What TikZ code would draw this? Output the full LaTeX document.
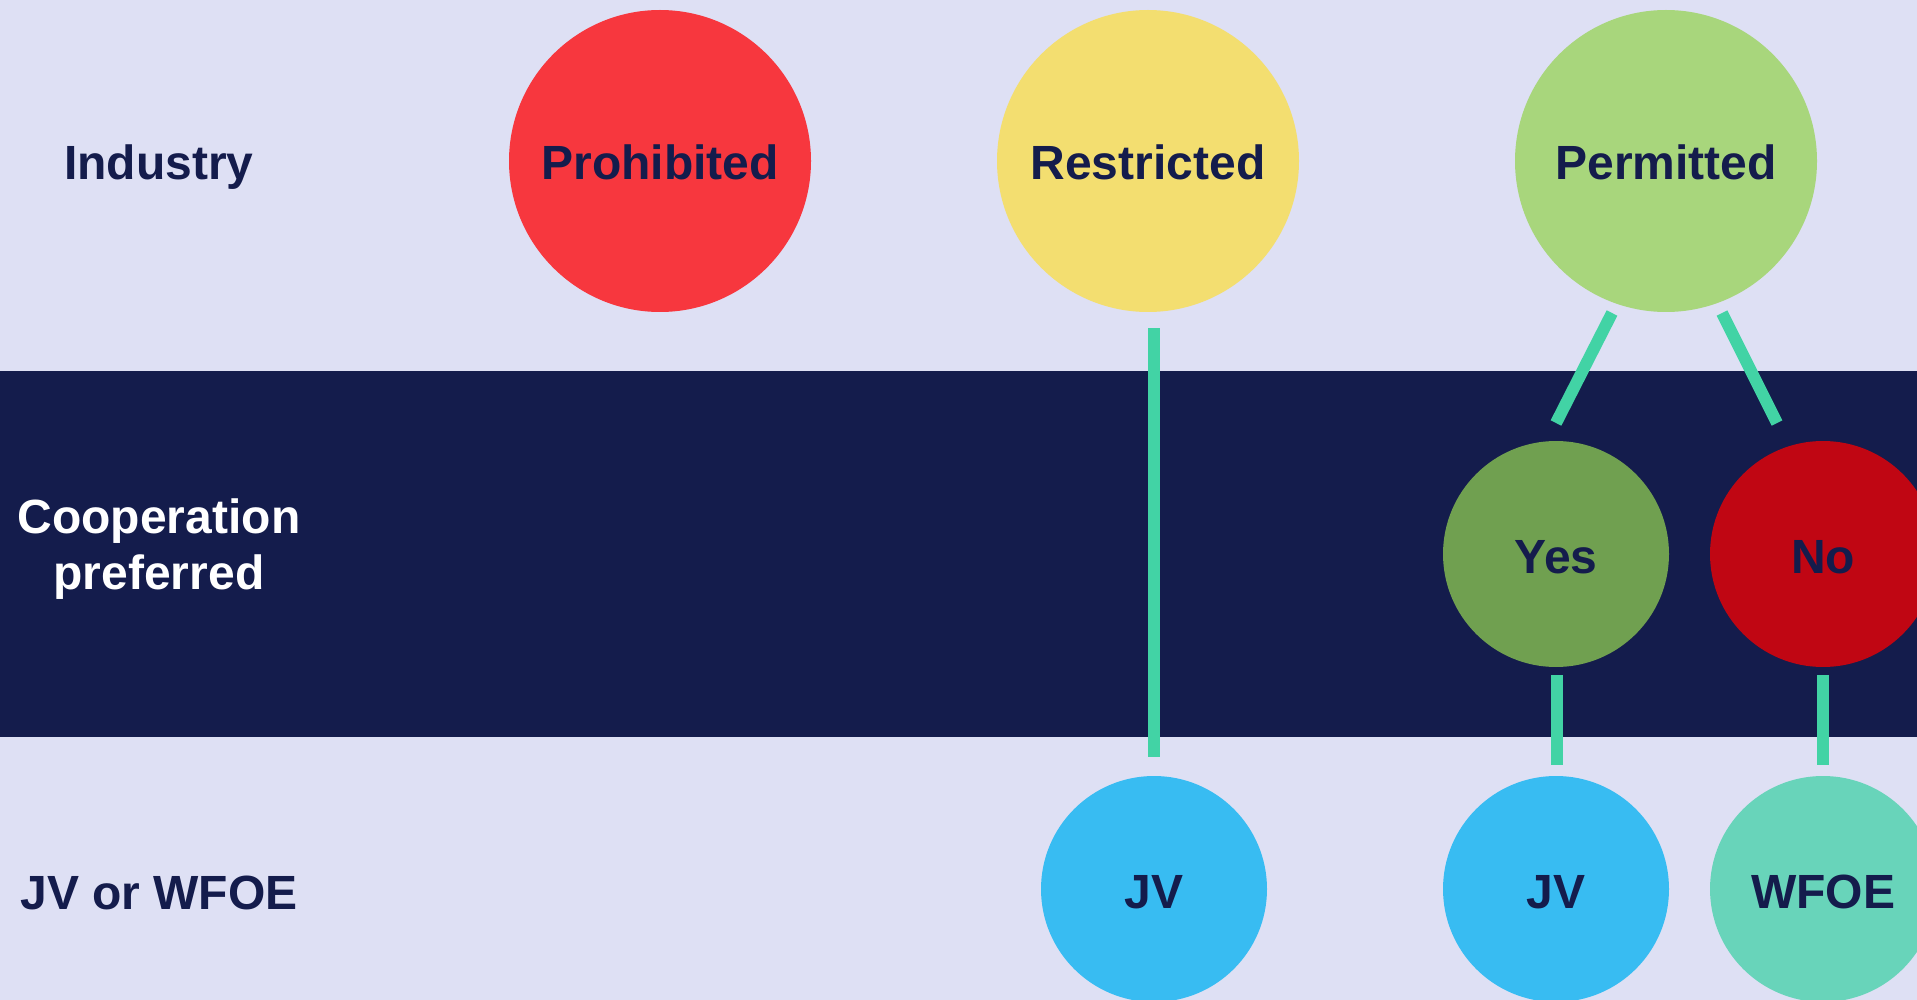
\documentclass[tikz,border=0pt]{standalone}
\usepackage{fontspec}
\setmainfont{Liberation Sans}
\usetikzlibrary{calc}
\definecolor{bglight}{HTML}{DEE0F4}
\definecolor{navy}{HTML}{141C4C}
\definecolor{cprohib}{HTML}{F7373E}
\definecolor{crestr}{HTML}{F3DE70}
\definecolor{cperm}{HTML}{A8D67C}
\definecolor{cyes}{HTML}{70A050}
\definecolor{cno}{HTML}{C00613}
\definecolor{cjv}{HTML}{38BCF2}
\definecolor{cwfoe}{HTML}{68D4BA}
\definecolor{linegreen}{HTML}{42D3A5}
\begin{document}
\begin{tikzpicture}[x=1pt,y=-1pt,
  bigfont/.style={font=\fontsize{48}{56}\selectfont\bfseries},
  bubble/.style={circle, inner sep=0pt, minimum size=#1, bigfont, text=navy,
    text height=38pt, text depth=0pt},
  rowlabel/.style={bigfont, text=navy, text height=38pt, text depth=0pt},
  conn/.style={draw=linegreen, line width=12pt, line cap=butt}]
\clip (0,0) rectangle (1917,1000);
\fill[bglight] (0,0) rectangle (1917,1000);
\fill[navy] (0,371) rectangle (1917,737);
% row labels
\node[rowlabel] (lind) at (159,161) {Industry};
\node[bigfont, text=white, align=center] (lcoop) at (159,549) {Cooperation\\preferred};
\node[rowlabel] (ljv) at (159,890) {JV or WFOE};
% circles
\node[bubble=302pt, fill=cprohib] (prohib) at (660,161) {Prohibited};
\node[bubble=302pt, fill=crestr] (restr) at (1148,161) {Restricted};
\node[bubble=302pt, fill=cperm] (perm) at (1666,161) {Permitted};
\node[bubble=226pt, fill=cyes] (yes) at (1556,554) {Yes};
\node[bubble=226pt, fill=cno] (no) at (1823,554) {No};
\node[bubble=226pt, fill=cjv] (jv1) at (1154,889) {JV};
\node[bubble=226pt, fill=cjv] (jv2) at (1556,889) {JV};
\node[bubble=226pt, fill=cwfoe] (wfoe) at (1823,889) {WFOE};
% connectors
\draw[conn] ($(restr.south -| jv1.center)+(0,16)$) -- ($(jv1.north)+(0,-19)$);
\draw[conn] ($(perm.center)+(-54,152)$) -- ($(yes.center)+(0,-131)$);
\draw[conn] ($(perm.center)+(56,152)$) -- ($(no.center)+(-46,-131)$);
\draw[conn] ($(yes.south)+(1,8)$) -- ($(jv2.north)+(1,-11)$);
\draw[conn] ($(no.south)+(0,8)$) -- ($(wfoe.north)+(0,-11)$);
\end{tikzpicture}
\end{document}
